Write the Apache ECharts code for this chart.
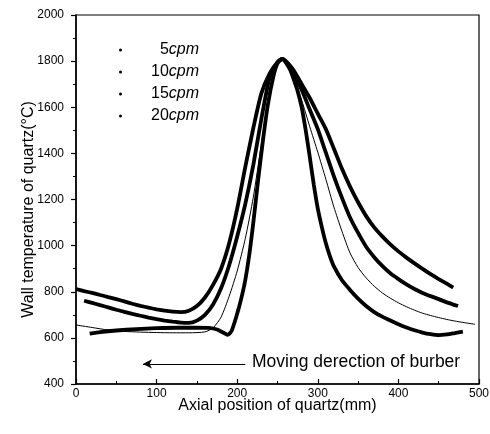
<!DOCTYPE html>
<html>
<head>
<meta charset="utf-8">
<script src="https://cdn.jsdelivr.net/npm/echarts@6/dist/echarts.min.js"></script>
<style>html,body{margin:0;padding:0;background:#fff}#c{width:490px;height:434px}</style>
</head>
<body>
<div id="c"></div>
<script>
const seriesNames = ['5cpm', '10cpm', '15cpm', '20cpm'];
const xTicks = [0, 100, 200, 300, 400, 500];
const yTicks = [400, 600, 800, 1000, 1200, 1400, 1600, 1800, 2000];

const x5 = [0,10,20,30,40,50,60,70,80,90,100,110,120,130,140,150,160,170,180,190,200,210,220,230,240,250,256,
            262,270,280,290,300,310,320,330,340,350,360,370,380,390,400,410,420,430,440,450,460,468];
const y5 = [812,803,795,786,777,768,758,748,739,731,724,718,714,712,718,738,775,830,900,1010,1160,1340,1510,1660,1745,1795,1810,
            1795,1760,1700,1640,1572,1505,1420,1333,1256,1188,1128,1079,1040,1005,975,948,923,899,876,855,835,818];

const x10 = [10,20,30,40,50,60,70,80,90,100,110,120,130,140,150,160,170,180,190,200,210,220,230,240,250,256,
             262,270,280,290,300,310,320,330,340,350,360,370,380,390,400,410,420,430,440,450,460,474];
const y10 = [761,752,742,732,722,713,704,696,688,681,675,670,666,665,675,700,745,815,915,1040,1180,1350,1550,1725,1795,1810,
             1790,1745,1676,1590,1505,1403,1300,1207,1122,1055,995,950,912,880,855,832,812,795,781,768,754,738];

const x15 = [0,20,40,60,80,100,120,140,160,170,180,190,200,210,220,230,240,250,256,
             262,270,280,290,300,310,320,330,340,350,360,370,380,390,400,410,420,430,440,450,460,470,480,495];
const y15 = [656,645,634,628,625,623,622,622,626,643,690,780,890,1030,1210,1440,1660,1785,1810,
             1785,1725,1630,1516,1405,1288,1167,1062,968,905,860,824,795,772,752,735,720,707,697,688,680,673,667,659];

const x20 = [17,30,50,75,100,125,150,165,175,183,188,193,200,205,210,215,220,226,232,238,245,250,256,
             262,266,270,275,280,285,290,295,300,305,310,315,320,330,340,350,360,370,380,390,400,410,420,430,440,450,460,470,480];
const y20 = [618,625,632,638,642,644,644,643,636,622,613,630,705,770,850,960,1100,1285,1458,1610,1735,1790,1810,
             1785,1760,1722,1670,1600,1500,1385,1265,1160,1080,1010,955,910,850,808,770,738,712,692,675,659,645,633,623,616,612,615,621,627];

const arrowFrom = [210, 487];
const arrowTo = [83, 487];
const noteText = 'Moving derection of burber';

function zip(xs, ys) { return xs.map((x, i) => [x, ys[i]]); }

const FONT = '"Liberation Sans", Arial, sans-serif';
const chart = echarts.init(document.getElementById('c'), null, {renderer: 'canvas'});

const thick = 3.8;
const mkSeries = (name, xs, ys, w) => ({
  name: name,
  type: 'line',
  data: zip(xs, ys),
  smooth: 0.22,
  showSymbol: false,
  symbol: 'circle',
  symbolSize: 3,
  lineStyle: {color: '#000', width: w},
  itemStyle: {color: '#000'},
  z: 3
});

const s5 = mkSeries(seriesNames[0], x5, y5, thick);
const s10 = mkSeries(seriesNames[1], x10, y10, thick);
const s15 = mkSeries(seriesNames[2], x15, y15, 1);
const s20 = mkSeries(seriesNames[3], x20, y20, thick);
s20.markLine = {
  silent: true,
  symbol: ['none', 'arrow'],
  symbolSize: [7, 9],
  label: {show: false},
  lineStyle: {color: '#000', width: 1, type: 'solid'},
  data: [[{coord: arrowFrom}, {coord: arrowTo}]]
};

chart.setOption({
  animation: false,
  backgroundColor: '#fff',
  textStyle: {fontFamily: FONT, color: '#000'},
  grid: {left: 76, right: 11, top: 15, bottom: 50, show: true, borderColor: '#000', borderWidth: 1.2, outerBoundsMode: 'none'},
  legend: {
    data: seriesNames,
    orient: 'vertical',
    left: 114,
    top: 37,
    itemGap: 6,
    itemWidth: 3,
    itemHeight: 3,
    icon: 'circle',
    selectedMode: false,
    formatter: function (n) { return '{n|' + n.replace('cpm', '') + '}{i|cpm}'; },
    textStyle: {
      width: 72,
      fontFamily: FONT,
      rich: {
        n: {fontSize: 16, fontFamily: FONT, color: '#000', align: 'right', lineHeight: 16},
        i: {fontSize: 16, fontFamily: FONT, color: '#000', fontStyle: 'italic', align: 'right', lineHeight: 16}
      }
    }
  },
  xAxis: {
    type: 'value',
    min: xTicks[0],
    max: xTicks[xTicks.length - 1],
    interval: 100,
    name: 'Axial position of quartz(mm)',
    nameLocation: 'middle',
    nameGap: 14,
    nameMoveOverlap: false,
    nameTextStyle: {fontSize: 16, fontFamily: FONT, color: '#000', verticalAlign: 'top'},
    axisLine: {lineStyle: {color: '#000', width: 1.5}},
    axisTick: {inside: true, length: 5, lineStyle: {color: '#000', width: 1.2}},
    minorTick: {show: true, splitNumber: 2, length: 3, lineStyle: {color: '#000', width: 1}},
    axisLabel: {fontSize: 12, color: '#000', fontFamily: FONT, margin: 4, formatter: v => String(v)},
    splitLine: {show: false}
  },
  yAxis: {
    type: 'value',
    min: yTicks[0],
    max: yTicks[yTicks.length - 1],
    interval: 200,
    name: 'Wall temperature of quartz(°C)',
    nameLocation: 'middle',
    nameGap: 39,
    nameMoveOverlap: false,
    nameTextStyle: {fontSize: 16, fontFamily: FONT, color: '#000', padding: [0, 20, 0, 0]},
    axisLine: {lineStyle: {color: '#000', width: 1.5}},
    axisTick: {length: 5, lineStyle: {color: '#000', width: 1.2}},
    minorTick: {show: true, splitNumber: 2, length: 3, lineStyle: {color: '#000', width: 1}},
    axisLabel: {fontSize: 12, color: '#000', fontFamily: FONT, margin: 12, formatter: v => String(v)},
    splitLine: {show: false}
  },
  graphic: [{
    type: 'text',
    left: 252,
    top: 353,
    style: {text: noteText, fontSize: 17.5, fontFamily: FONT, fill: '#000'}
  }],
  series: [s5, s10, s15, s20]
});
</script>
</body>
</html>
